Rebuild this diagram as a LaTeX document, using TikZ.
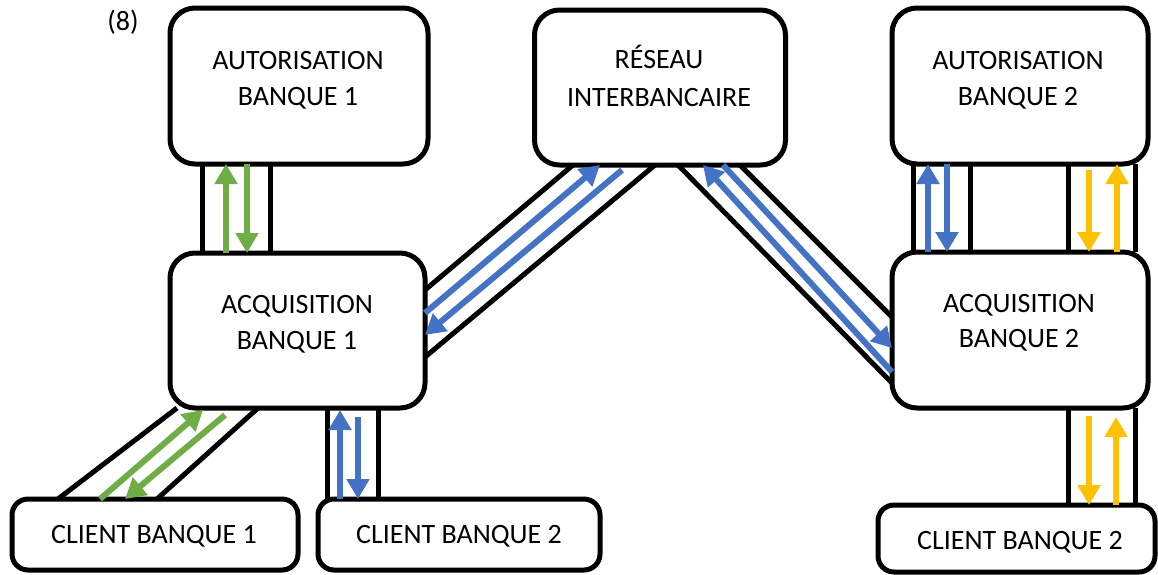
\documentclass[tikz,border=0pt]{standalone}
\usepackage{fontspec}
\setmainfont{Carlito}
\usetikzlibrary{arrows.meta}
\definecolor{ogreen}{RGB}{112,173,71}
\definecolor{oblue}{RGB}{68,114,196}
\definecolor{oyellow}{RGB}{255,192,0}
\tikzset{
  bigbox/.style={draw=black, line width=5pt, fill=white, rounded corners=25pt, outer sep=0pt, inner sep=0pt},
  smallbox/.style={draw=black, line width=5pt, fill=white, rounded corners=16pt, outer sep=0pt, inner sep=0pt},
  pipe/.style={draw=black, line width=5pt},
  lbl/.style={anchor=base, inner sep=0pt, font=\fontsize{28}{36}\selectfont},
  flow/.style={line width=6pt, -{Triangle[width=22pt,length=20pt]}},
  gflow/.style={flow, draw=ogreen},
  bflow/.style={flow, draw=oblue},
  yflow/.style={flow, draw=oyellow}
}
\begin{document}
\begin{tikzpicture}[x=1pt,y=-1pt]
\useasboundingbox (0,0) rectangle (1158,574);
% boxes (positions only, drawn after pipes)
\path
  coordinate (auth1c) at (299,86)
  coordinate (resc) at (660,87.5)
  coordinate (auth2c) at (1020,86)
  coordinate (acq1c) at (297.5,330.5)
  coordinate (acq2c) at (1020,330)
  coordinate (cli1c) at (155,534.5)
  coordinate (cli2mc) at (459,534.5)
  coordinate (cli2rc) at (1016.5,538.5);
\path
  node[minimum width=258pt, minimum height=156pt, inner sep=0pt, outer sep=0pt] (auth1) at (auth1c) {}
  node[minimum width=251pt, minimum height=155pt, inner sep=0pt, outer sep=0pt] (res) at (resc) {}
  node[minimum width=256pt, minimum height=156pt, inner sep=0pt, outer sep=0pt] (auth2) at (auth2c) {}
  node[minimum width=255pt, minimum height=155pt, inner sep=0pt, outer sep=0pt] (acq1) at (acq1c) {}
  node[minimum width=256pt, minimum height=156pt, inner sep=0pt, outer sep=0pt] (acq2) at (acq2c) {}
  node[minimum width=286pt, minimum height=71pt, inner sep=0pt, outer sep=0pt] (cli1) at (cli1c) {}
  node[minimum width=282pt, minimum height=71pt, inner sep=0pt, outer sep=0pt] (cli2m) at (cli2mc) {}
  node[minimum width=277pt, minimum height=67pt, inner sep=0pt, outer sep=0pt] (cli2r) at (cli2rc) {};
% pipes
\draw[pipe] (202,0 |- auth1.south) -- (202,0 |- acq1.north);
\draw[pipe] (270,0 |- auth1.south) -- (270,0 |- acq1.north);
\draw[pipe] (327,0 |- acq1.south) -- (327,0 |- cli2m.north);
\draw[pipe] (378,0 |- acq1.south) -- (378,0 |- cli2m.north);
\draw[pipe] (913,0 |- auth2.south) -- (913,0 |- acq2.north);
\draw[pipe] (970,0 |- auth2.south) -- (970,0 |- acq2.north);
\draw[pipe] (1068,0 |- auth2.south) -- (1068,0 |- acq2.north);
\draw[pipe] (1135,0 |- auth2.south) -- (1135,0 |- acq2.north);
\draw[pipe] (1068,0 |- acq2.south) -- (1068,0 |- cli2r.north);
\draw[pipe] (1135,0 |- acq2.south) -- (1135,0 |- cli2r.north);
\draw[pipe] (acq1.east |- 0,290) -- (573,0 |- res.south);
\draw[pipe] (acq1.east |- 0,357) -- (655,0 |- res.south);
\draw[pipe] (678,0 |- res.south) -- (acq2.west |- 0,383);
\draw[pipe] (740,0 |- res.south) -- (acq2.west |- 0,317);
\draw[pipe] (58,0 |- cli1.north) -- (177,0 |- acq1.south);
\draw[pipe] (157,0 |- cli1.north) -- (258,0 |- acq1.south);
% boxes
\node[bigbox, minimum width=258pt, minimum height=156pt] at (auth1) {};
\node[bigbox, minimum width=251pt, minimum height=155pt] at (res) {};
\node[bigbox, minimum width=256pt, minimum height=156pt] at (auth2) {};
\node[bigbox, minimum width=255pt, minimum height=155pt] at (acq1) {};
\node[bigbox, minimum width=256pt, minimum height=156pt] at (acq2) {};
\node[smallbox, minimum width=286pt, minimum height=71pt] at (cli1) {};
\node[smallbox, minimum width=282pt, minimum height=71pt] at (cli2m) {};
\node[smallbox, minimum width=277pt, minimum height=67pt] at (cli2r) {};
% texts
\node[lbl] (t8) at (123,30.5) {(8)};
\node[lbl] (auth1a) at (298,69) {AUTORISATION};
\node[lbl] (auth1b) at (298,105) {BANQUE 1};
\node[lbl] (resa) at (659,68) {RÉSEAU};
\node[lbl] (resb) at (659,106) {INTERBANCAIRE};
\node[lbl] (auth2a) at (1018,69) {AUTORISATION};
\node[lbl] (auth2b) at (1018,105) {BANQUE 2};
\node[lbl] (acq1a) at (297,313) {ACQUISITION};
\node[lbl] (acq1b) at (297,349) {BANQUE 1};
\node[lbl] (acq2a) at (1019,312) {ACQUISITION};
\node[lbl] (acq2b) at (1019,347) {BANQUE 2};
\node[lbl] (cli1t) at (154,543) {CLIENT BANQUE 1};
\node[lbl] (cli2mt) at (459,543) {CLIENT BANQUE 2};
\node[lbl] (cli2rt) at (1020,549) {CLIENT BANQUE 2};
% arrows
\draw[gflow] (226,0 |- acq1.north) -- (226,0 |- auth1.south);
\draw[gflow] (247,0 |- auth1.south) -- (247,0 |- acq1.north);
\draw[bflow] (340,0 |- cli2m.north) -- (340,410);
\draw[bflow] (358,417) -- (358,0 |- cli2m.north);
\draw[bflow] (928,0 |- acq2.north) -- (928,0 |- auth2.south);
\draw[bflow] (947,0 |- auth2.south) -- (947,0 |- acq2.north);
\draw[yflow] (1089,170) -- (1089,0 |- acq2.north);
\draw[yflow] (1117,0 |- acq2.north) -- (1117,0 |- auth2.south);
\draw[yflow] (1089,416) -- (1089,0 |- cli2r.north);
\draw[yflow] (1116,0 |- cli2r.north) -- (1116,417);
\draw[bflow] (acq1.east |- 0,313) -- (600,0 |- res.south);
\draw[bflow] (622,170) -- (acq1.east |- 0,335);
\draw[bflow] (acq2.west |- 0,372) -- (703,0 |- res.south);
\draw[bflow] (723,0 |- res.south) -- (acq2.west |- 0,348);
\draw[gflow] (100,0 |- cli1.north) -- (203,410);
\draw[gflow] (225,415) -- (125,0 |- cli1.north);
\end{tikzpicture}
\end{document}
